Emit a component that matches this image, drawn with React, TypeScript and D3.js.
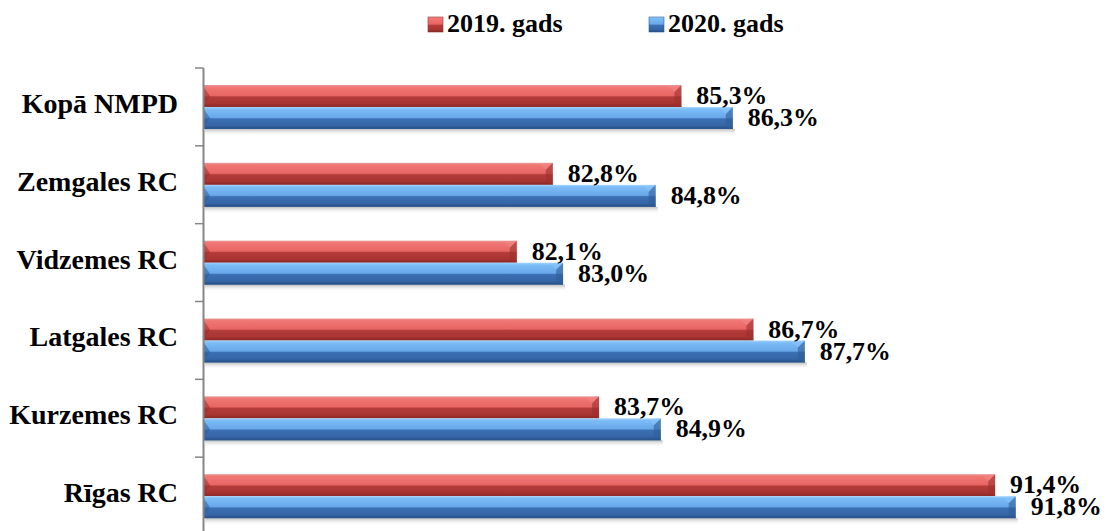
import React from 'react';
import * as d3 from 'd3';

// chart data (top to bottom as drawn)
const categories = ['Kopā NMPD', 'Zemgales RC', 'Vidzemes RC', 'Latgales RC', 'Kurzemes RC', 'Rīgas RC'];
const seriesNames = ['2019. gads', '2020. gads'];
const values2019 = [0.853, 0.828, 0.821, 0.867, 0.837, 0.914];
const values2020 = [0.863, 0.848, 0.830, 0.877, 0.849, 0.918];
const labels2019 = ['85,3%', '82,8%', '82,1%', '86,7%', '83,7%', '91,4%'];
const labels2020 = ['86,3%', '84,8%', '83,0%', '87,7%', '84,9%', '91,8%'];

const W = 1109;
const H = 531;

const palettes = [
  { id: 'gRed', stops: ['#e99a98', '#f07674', '#e86664', '#b43c3a', '#a83432', '#7e2624'], cap: '#9c302e', capLight: '#f08a88' },
  { id: 'gBlue', stops: ['#a6d6ff', '#7cbcf6', '#68a8ea', '#3b70b4', '#3565a6', '#23497c'], cap: '#2f5d98', capLight: '#8cc6fb' },
];
const stopOffsets = [0, 0.1, 0.48, 0.54, 0.85, 1];

export default function App() {
  const x = d3.scaleLinear().domain([0.76, 0.92]).range([203, 1026]);
  const y = d3.scaleBand<string>().domain(categories).range([68, 535]);
  const sub = d3.scaleBand<string>().domain(seriesNames).range([17, 61]);
  const bh = sub.bandwidth();
  const series = [
    { name: seriesNames[0], values: values2019, labels: labels2019, pal: palettes[0] },
    { name: seriesNames[1], values: values2020, labels: labels2020, pal: palettes[1] },
  ];
  const x0 = x(0.76);
  const axisX = 203.5;

  return (
    <div style={{ position: 'absolute', left: 0, top: 0 }}>
      <svg width={W} height={H} fontFamily="Liberation Serif" fontWeight="bold">
        <defs>
          {palettes.map(p => (
            <linearGradient key={p.id} id={p.id} x1="0" x2="0" y1="0" y2="1">
              {p.stops.map((c, i) => (
                <stop key={i} offset={stopOffsets[i]} stopColor={c} />
              ))}
            </linearGradient>
          ))}
          <linearGradient id="gShadow" x1="0" x2="0" y1="0" y2="1">
            <stop offset="0" stopColor="#8a8a8a" stopOpacity={0.55} />
            <stop offset="1" stopColor="#ffffff" stopOpacity={0} />
          </linearGradient>
        </defs>

        {/* legend */}
        {series.map((s, i) => {
          const lx = i === 0 ? 428 : 649;
          return (
            <g key={s.name}>
              <rect x={lx} y={17} width={15} height={15} fill={`url(#${s.pal.id})`} stroke={s.pal.cap} strokeWidth={0.6} />
              <text x={lx + 19} y={32} fontSize={26}>
                {s.name}
              </text>
            </g>
          );
        })}

        {/* bars */}
        {categories.map((c, ci) => {
          const by = y(c) ?? 0;
          return (
            <g key={c}>
              {/* soft shadow under the group */}
              <rect x={x0 + 2} y={by + (sub(seriesNames[1]) ?? 0) + bh} width={x(values2020[ci]) - x0} height={7} fill="url(#gShadow)" />
              {series.map(s => {
                const yy = by + (sub(s.name) ?? 0);
                const x1 = x(s.values[ci]);
                const bev = 7;
                return (
                  <g key={s.name}>
                    <rect x={x0} y={yy} width={x1 - x0} height={bh} fill={`url(#${s.pal.id})`} />
                    {/* left bevel */}
                    <polygon points={`${x0},${yy + 1} ${x0 + bev},${yy + bh / 2} ${x0},${yy + bh - 1}`} fill={s.pal.cap} opacity={0.55} />
                    {/* right bevel facets */}
                    <polygon points={`${x1},${yy} ${x1 - bev},${yy + bev} ${x1 - bev},${yy + bh - 2} ${x1},${yy + bh}`} fill={s.pal.cap} opacity={0.6} />
                    <polygon points={`${x1},${yy} ${x1 - bev},${yy + bev} ${x1 - bev - 6},${yy + 1}`} fill={s.pal.capLight} opacity={0.5} />
                    <line x1={x0} x2={x1} y1={yy + bh - 0.5} y2={yy + bh - 0.5} stroke={s.pal.cap} strokeWidth={1} opacity={0.7} />
                  </g>
                );
              })}
              {/* category label */}
              <text x={178} y={by + y.bandwidth() / 2 + 6} textAnchor="end" fontSize={28}>
                {c}
              </text>
            </g>
          );
        })}

        {/* value labels on top */}
        {categories.map((c, ci) => {
          const by = y(c) ?? 0;
          return series.map(s => {
            const yy = by + (sub(s.name) ?? 0);
            return (
              <text key={c + s.name} x={x(s.values[ci]) + 15} y={yy + bh / 2 + 8}
                fontSize={25} textLength={71} lengthAdjust="spacingAndGlyphs">
                {s.labels[ci]}
              </text>
            );
          });
        })}

        {/* axis */}
        <line x1={axisX} x2={axisX} y1={68} y2={535} stroke="#868686" strokeWidth={2} />
        {y.domain().map(c => (
          <line key={c} x1={195} x2={axisX} y1={(y(c) ?? 0)} y2={(y(c) ?? 0)} stroke="#868686" strokeWidth={1.5} />
        ))}
      </svg>
    </div>
  );
}
